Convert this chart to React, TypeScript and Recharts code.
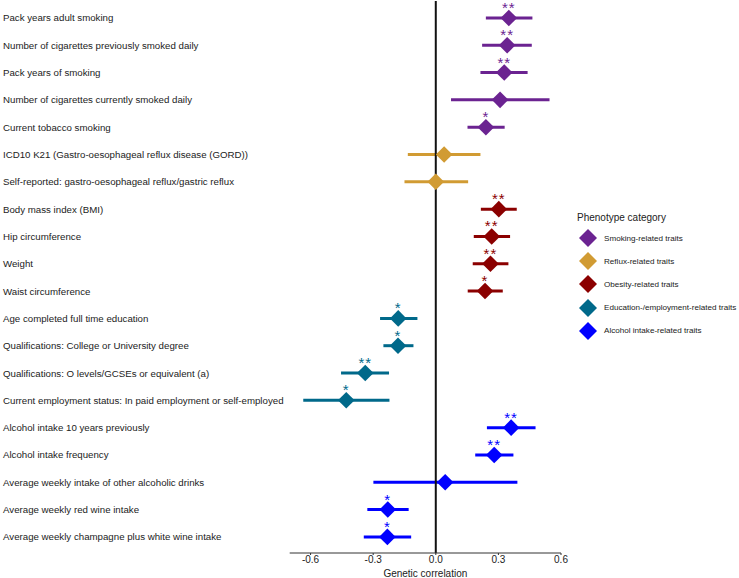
import React from 'react';
import { ScatterChart, Scatter, XAxis, YAxis, ErrorBar, ReferenceLine } from 'recharts';

const traits = [
  'Pack years adult smoking',
  'Number of cigarettes previously smoked daily',
  'Pack years of smoking',
  'Number of cigarettes currently smoked daily',
  'Current tobacco smoking',
  'ICD10 K21 (Gastro-oesophageal reflux disease (GORD))',
  'Self-reported: gastro-oesophageal reflux/gastric reflux',
  'Body mass index (BMI)',
  'Hip circumference',
  'Weight',
  'Waist circumference',
  'Age completed full time education',
  'Qualifications: College or University degree',
  'Qualifications: O levels/GCSEs or equivalent (a)',
  'Current employment status: In paid employment or self-employed',
  'Alcohol intake 10 years previously',
  'Alcohol intake frequency',
  'Average weekly intake of other alcoholic drinks',
  'Average weekly red wine intake',
  'Average weekly champagne plus white wine intake',
];

const estimates = [0.35, 0.342, 0.328, 0.308, 0.24, 0.04, 0.0, 0.302, 0.268, 0.262, 0.236, -0.18, -0.181, -0.338, -0.429, 0.361, 0.28, 0.045, -0.23, -0.232];
const lower = [0.24, 0.222, 0.214, 0.073, 0.152, -0.134, -0.15, 0.216, 0.182, 0.177, 0.153, -0.267, -0.251, -0.454, -0.635, 0.245, 0.189, -0.299, -0.328, -0.345];
const upper = [0.463, 0.46, 0.44, 0.545, 0.33, 0.214, 0.155, 0.388, 0.356, 0.348, 0.321, -0.088, -0.107, -0.224, -0.222, 0.478, 0.372, 0.391, -0.13, -0.118];
const stars = ['**', '**', '**', '', '*', '', '', '**', '**', '**', '*', '*', '*', '**', '*', '**', '**', '', '*', '*'];
const categoryOf = [0, 0, 0, 0, 0, 1, 1, 2, 2, 2, 2, 3, 3, 3, 3, 4, 4, 4, 4, 4];

const categories = [
  'Smoking-related traits',
  'Reflux-related traits',
  'Obesity-related traits',
  'Education-/employment-related traits',
  'Alcohol intake-related traits',
];
const colors = ['#6B2391', '#D19B33', '#8B0000', '#00698A', '#0000FF'];
const xTicks = [-0.6, -0.3, 0, 0.3, 0.6];

const rows = traits.map((name, i) => ({
  name,
  idx: i + 1,
  est: estimates[i],
  err: [estimates[i] - lower[i], upper[i] - estimates[i]],
  stars: stars[i],
  cat: categoryOf[i],
}));

const FONT = '"Liberation Sans", Arial, Helvetica, sans-serif';

function Diamond(props: any) {
  const { cx, cy, fill, payload } = props;
  const s = 8.3;
  return (
    <g>
      <polygon points={`${cx},${cy - s} ${cx + s},${cy} ${cx},${cy + s} ${cx - s},${cy}`} fill={fill} />
      {payload.stars ? (
        <text x={cx} y={cy - 5} textAnchor="middle" fontSize={15} fill={fill} fontFamily={FONT} letterSpacing={1}>
          {payload.stars}
        </text>
      ) : null}
    </g>
  );
}

function TraitTick(props: any) {
  const { y, payload } = props;
  const label = traits[payload.value - 1];
  if (!label) return null;
  return (
    <text x={3} y={y} dy={3.5} textAnchor="start" fontSize={9.7} fill="#222" fontFamily={FONT}>
      {label}
    </text>
  );
}

export default function App() {
  return (
    <div style={{ position: 'relative', width: 739, height: 578, background: '#fff', fontFamily: FONT }}>
      <style>{'body{margin:0}'}</style>
      <ScatterChart width={739} height={578} margin={{ top: 1, right: 178, bottom: 0, left: 0 }}>
        <XAxis
          type="number"
          dataKey="est"
          domain={[-0.7, 0.6]}
          ticks={xTicks}
          tickFormatter={(v: number) => v.toFixed(1)}
          tick={{ fontSize: 10, fill: '#222', fontFamily: FONT }}
          tickSize={2}
          tickMargin={1}
          stroke="#333"
          height={25}
          label={{ value: 'Genetic correlation', position: 'insideBottom', offset: 1, fontSize: 10, fill: '#222', fontFamily: FONT }}
        />
        <YAxis
          type="number"
          dataKey="idx"
          reversed
          domain={[0.38, 20.59]}
          ticks={traits.map((_, i) => i + 1)}
          tick={<TraitTick />}
          tickLine={false}
          axisLine={false}
          width={289.7}
        />
        {categories.map((c, ci) => (
          <Scatter
            key={c}
            name={c}
            data={rows.filter(r => r.cat === ci)}
            fill={colors[ci]}
            shape={<Diamond />}
            isAnimationActive={false}
          >
            <ErrorBar dataKey="err" direction="x" width={0} stroke={colors[ci]} strokeWidth={3} />
          </Scatter>
        ))}
        <ReferenceLine x={0} stroke="#111" strokeWidth={2} />
      </ScatterChart>
      <div style={{ position: 'absolute', left: 577, top: 211, width: 162 }}>
        <div style={{ fontSize: 10, color: '#222', lineHeight: '14px' }}>Phenotype category</div>
        {categories.map((c, ci) => (
          <div key={c} style={{ position: 'absolute', left: 0, top: 18 + ci * 23.2, display: 'flex', alignItems: 'center', height: 18 }}>
            <svg width={22} height={18} style={{ display: 'block' }}>
              <polygon points="11,0 20,9 11,18 2,9" fill={colors[ci]} />
            </svg>
            <span style={{ fontSize: 8.1, color: '#222', marginLeft: 5, whiteSpace: 'nowrap' }}>{c}</span>
          </div>
        ))}
      </div>
    </div>
  );
}
